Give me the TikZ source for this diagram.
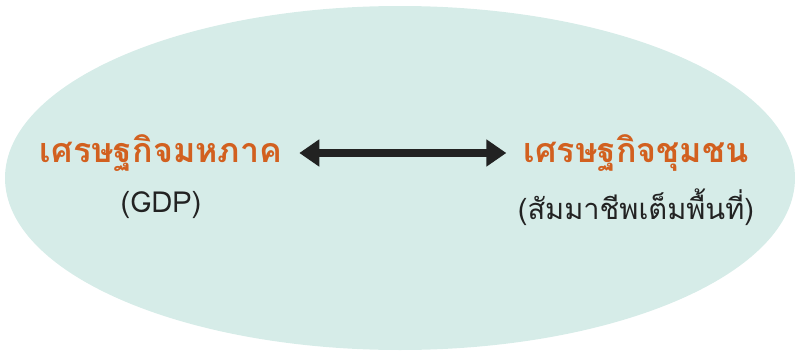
\documentclass[tikz,border=0pt]{standalone}
\usepackage{fontspec}
\newfontfamily\thaifont[Script=Thai]{Loma}
\usetikzlibrary{positioning,arrows.meta}
\definecolor{ovalfill}{HTML}{D6ECE8}
\definecolor{titleorange}{HTML}{D2601F}
\definecolor{subgray}{HTML}{222222}
\begin{document}
\begin{tikzpicture}[x=1pt,y=-1pt,
  every node/.style = {align=center, inner sep=0pt},
    title/.style = {font=\thaifont\bfseries\fontsize{34}{36}\selectfont, text=titleorange},
    subtitle/.style = {font=\thaifont\fontsize{29}{32}\selectfont, text=subgray},
    bothway/.style = {{Triangle[width=26pt,length=20pt]}-{Triangle[width=26pt,length=20pt]}, line width=8pt, draw=subgray, shorten <=17pt, shorten >=17pt}
    ]
  \useasboundingbox (0,0) rectangle (796,351);
  \fill[ovalfill] (400,178) ellipse [x radius=395, y radius=172];

  \node[title] (macro) at (161,153) {เศรษฐกิจมหภาค};
  \node[subtitle, below=20pt of macro] (gdp) {(GDP)};
  \node[title] (community) at (636,153) {เศรษฐกิจชุมชน};
  \node[subtitle, below=17pt of community] (livelihood) {(สัมมาชีพเต็มพื้นที่)};

  \draw[bothway] (macro) -- (community);
\end{tikzpicture}
\end{document}
